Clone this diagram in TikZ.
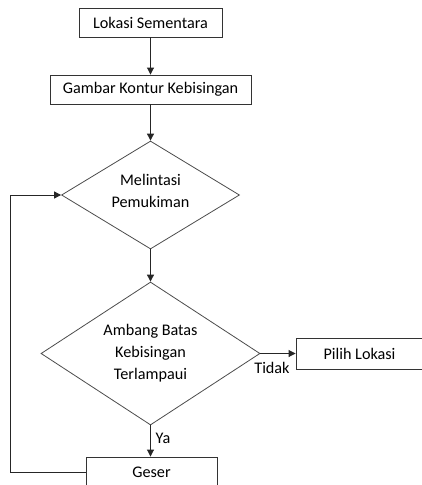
\documentclass[tikz,border=0pt]{standalone}
\usepackage{fontspec}
\setmainfont{Carlito}
\usetikzlibrary{shapes.geometric,arrows.meta}
\begin{document}
\begin{tikzpicture}[x=1pt,y=-1pt,
  every node/.style={font=\fontsize{16.2}{22}\selectfont, text=black},
  procbox/.style={draw=black!80, line width=0.9pt, rectangle, inner sep=0pt, anchor=center},
  decision/.style={draw=black!70, line width=0.8pt, diamond, inner sep=0pt, aspect=1},
  flow/.style={draw=black!85, line width=0.9pt, -{Triangle[width=7pt,length=7pt]}},
  lbl/.style={inner sep=0pt}
]
\clip (0,0) rectangle (422,485);
\useasboundingbox (0,0) rectangle (422,485);
\fill[white] (0,0) rectangle (422,485);

\node[procbox, minimum width=143pt, minimum height=29pt] (lok) at (150.5,22.5) {Lokasi Sementara};
\node[procbox, minimum width=201pt, minimum height=29pt] (gam) at (150.5,89.5) {Gambar Kontur Kebisingan};
\node[decision, minimum width=178pt, minimum height=108pt,
      label={[align=center,lbl,yshift=4pt]center:Melintasi\\Pemukiman}] (mel) at (150.5,195) {};
\node[decision, minimum width=219pt, minimum height=143pt,
      label={[align=center,lbl]center:Ambang Batas\\Kebisingan\\Terlampaui}] (amb) at (150.5,353.5) {};
\node[procbox, minimum width=127pt, minimum height=31pt] (pil) at (359.5,353.5) {Pilih Lokasi};
\node[procbox, minimum width=131pt, minimum height=31pt] (ges) at (151.5,472.5) {Geser};
\coordinate (lp1) at (10,472.5);
\coordinate (lp2) at (10,195);

\draw[flow] (lok.south) -- (gam.north);
\draw[flow] (gam.south) -- (mel.north);
\draw[flow] (mel.south) -- (amb.north);
\draw[flow] (amb.east) -- (pil.west);
\draw[flow] (amb.south) -- (amb.south |- ges.north);
\draw[flow] (ges.west) -- (lp1) -- (lp2) -- (mel.west);

\node[lbl] (tidak) at (272,368) {Tidak};
\node[lbl] (ya) at (163,438) {Ya};
\end{tikzpicture}
\end{document}
